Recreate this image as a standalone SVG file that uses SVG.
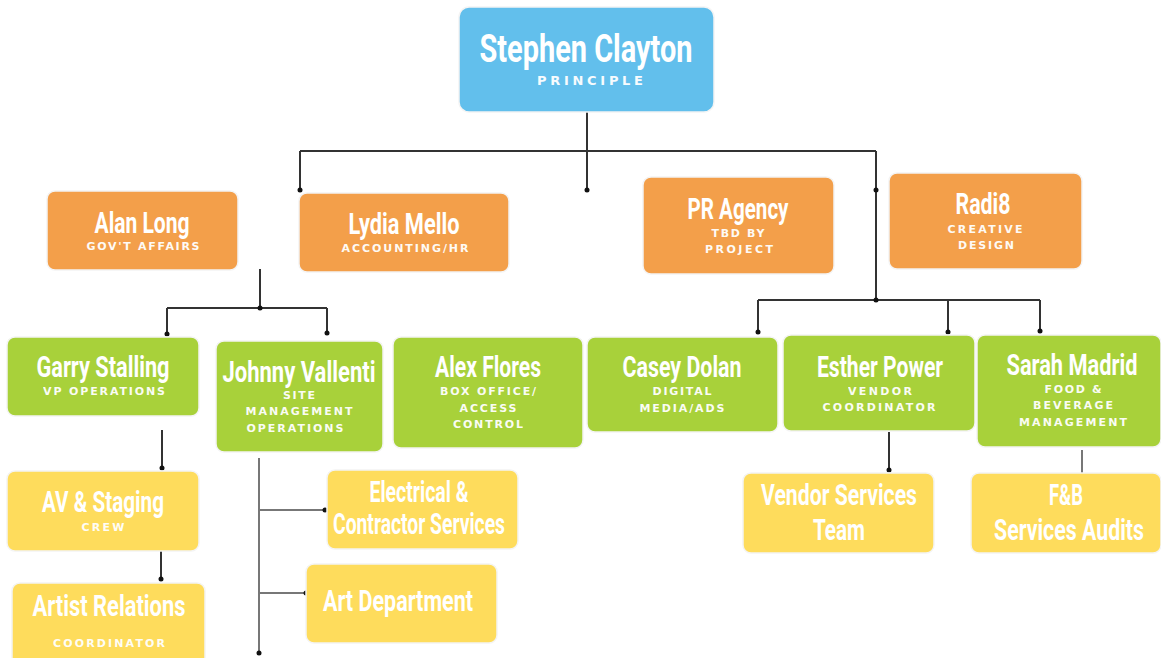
<svg xmlns="http://www.w3.org/2000/svg" width="1161" height="658" viewBox="0 0 1161 658">
<defs>
<style>
.box{stroke:#f4f4f4;stroke-width:1.5}
.blue{fill:#62BFEC}
.orange{fill:#F39F4A}
.green{fill:#A8D13A}
.yellow{fill:#FEDC5C}
.nm{font-family:"Liberation Sans Narrow","Roboto",sans-serif;font-weight:bold;fill:#fff;text-anchor:middle}
.sub{font-family:"DejaVu Sans","Open Sans",sans-serif;font-size:11px;font-weight:600;fill:#fff;text-anchor:middle;opacity:0.95}
.ln{stroke:#333;stroke-width:2;fill:none}
.ln2{stroke:#777;stroke-width:2;fill:none}
.dot{fill:#111}
</style>
</defs>
<rect width="1161" height="658" fill="#fff"/>
<g id="connectors">
<path class="ln" d="M587 112V190M300 151H876M300 151V190M876 151V300M758 300H1040M758 300V332M948 300V332M1040 300V331"/>
<path class="ln" d="M260 269V308M167 308H327M167 308V334M327 308V333"/>
<path class="ln" d="M162 430V468M161 541V579"/>
<path class="ln2" d="M259 458V653M259 510H325M259 593H306"/>
<path class="ln" d="M889 432V470"/>
<path class="ln2" d="M1082 450V473"/>
<circle class="dot" cx="587" cy="190" r="2.5"/>
<circle class="dot" cx="300" cy="190" r="2.5"/>
<circle class="dot" cx="876" cy="190" r="2.5"/>
<circle class="dot" cx="876" cy="300" r="2.5"/>
<circle class="dot" cx="758" cy="332" r="2.5"/>
<circle class="dot" cx="948" cy="332" r="2.5"/>
<circle class="dot" cx="1040" cy="331" r="2.5"/>
<circle class="dot" cx="260" cy="308" r="2.5"/>
<circle class="dot" cx="167" cy="334" r="2.5"/>
<circle class="dot" cx="327" cy="333" r="2.5"/>
<circle class="dot" cx="162" cy="468" r="2.5"/>
<circle class="dot" cx="161" cy="579" r="2.5"/>
<circle class="dot" cx="259" cy="653" r="2.5"/>
<circle class="dot" cx="325" cy="510" r="2.5"/>
<circle class="dot" cx="306" cy="593" r="2.5"/>
<circle class="dot" cx="889" cy="470" r="2.5"/>
</g>
<g id="stephen">
<rect class="box blue" x="459" y="7" width="255" height="105" rx="10"/>
<text class="nm" x="586" y="62" font-size="38" textLength="213" lengthAdjust="spacingAndGlyphs">Stephen Clayton</text>
<text class="sub" x="590" y="85" style="font-size:13px" textLength="106">PRINCIPLE</text>
</g>
<g id="alan">
<rect class="box orange" x="47" y="191" width="191" height="79" rx="8"/>
<text class="nm" x="142" y="233" font-size="30" textLength="95" lengthAdjust="spacingAndGlyphs">Alan Long</text>
<text class="sub" x="143" y="250" textLength="113">GOV'T AFFAIRS</text>
</g>
<g id="lydia">
<rect class="box orange" x="299" y="193" width="210" height="79" rx="8"/>
<text class="nm" x="404" y="234" font-size="30" textLength="111" lengthAdjust="spacingAndGlyphs">Lydia Mello</text>
<text class="sub" x="405" y="252" textLength="127">ACCOUNTING/HR</text>
</g>
<g id="pr">
<rect class="box orange" x="643" y="177" width="191" height="97" rx="8"/>
<text class="nm" x="738" y="219" font-size="30" textLength="101" lengthAdjust="spacingAndGlyphs">PR Agency</text>
<text class="sub" x="738" y="237" textLength="53">TBD BY</text>
<text class="sub" x="739" y="253" textLength="68">PROJECT</text>
</g>
<g id="radi8">
<rect class="box orange" x="889" y="173" width="193" height="96" rx="8"/>
<text class="nm" x="983" y="214" font-size="30" textLength="55" lengthAdjust="spacingAndGlyphs">Radi8</text>
<text class="sub" x="985" y="233" textLength="75">CREATIVE</text>
<text class="sub" x="986" y="249" textLength="56">DESIGN</text>
</g>
<g id="garry">
<rect class="box green" x="7" y="337" width="192" height="79" rx="8"/>
<text class="nm" x="103" y="377" font-size="30" textLength="133" lengthAdjust="spacingAndGlyphs">Garry Stalling</text>
<text class="sub" x="104" y="395" textLength="122">VP OPERATIONS</text>
</g>
<g id="johnny">
<rect class="box green" x="216" y="341" width="167" height="111" rx="8"/>
<text class="nm" x="299" y="382" font-size="30" textLength="153" lengthAdjust="spacingAndGlyphs">Johnny Vallenti</text>
<text class="sub" x="299" y="399" textLength="32">SITE</text>
<text class="sub" x="299" y="415" textLength="107">MANAGEMENT</text>
<text class="sub" x="295" y="432" textLength="97">OPERATIONS</text>
</g>
<g id="alex">
<rect class="box green" x="393" y="337" width="190" height="111" rx="8"/>
<text class="nm" x="488" y="377" font-size="30" textLength="106" lengthAdjust="spacingAndGlyphs">Alex Flores</text>
<text class="sub" x="488" y="395" textLength="96">BOX OFFICE/</text>
<text class="sub" x="488" y="412" textLength="57">ACCESS</text>
<text class="sub" x="488" y="428" textLength="70">CONTROL</text>
</g>
<g id="casey">
<rect class="box green" x="587" y="337" width="191" height="95" rx="8"/>
<text class="nm" x="682" y="377" font-size="30" textLength="119" lengthAdjust="spacingAndGlyphs">Casey Dolan</text>
<text class="sub" x="682" y="395" textLength="59">DIGITAL</text>
<text class="sub" x="682" y="412" textLength="85">MEDIA/ADS</text>
</g>
<g id="esther">
<rect class="box green" x="783" y="335" width="192" height="96" rx="8"/>
<text class="nm" x="880" y="377" font-size="30" textLength="126" lengthAdjust="spacingAndGlyphs">Esther Power</text>
<text class="sub" x="880" y="395" textLength="64">VENDOR</text>
<text class="sub" x="879" y="411" textLength="113">COORDINATOR</text>
</g>
<g id="sarah">
<rect class="box green" x="977" y="335" width="184" height="112" rx="8"/>
<text class="nm" x="1072" y="375" font-size="30" textLength="131" lengthAdjust="spacingAndGlyphs">Sarah Madrid</text>
<text class="sub" x="1073" y="393" textLength="57">FOOD &amp;</text>
<text class="sub" x="1073" y="409" textLength="80">BEVERAGE</text>
<text class="sub" x="1073" y="426" textLength="108">MANAGEMENT</text>
</g>
<g id="av">
<rect class="box yellow" x="7" y="471" width="192" height="80" rx="8"/>
<text class="nm" x="103" y="512" font-size="30" textLength="122" lengthAdjust="spacingAndGlyphs">AV &amp; Staging</text>
<text class="sub" x="103" y="531" textLength="43">CREW</text>
</g>
<g id="artist">
<rect class="box yellow" x="12" y="583" width="193" height="85" rx="8"/>
<text class="nm" x="109" y="616" font-size="30" textLength="153" lengthAdjust="spacingAndGlyphs">Artist Relations</text>
<text class="sub" x="109" y="647" textLength="112">COORDINATOR</text>
</g>
<g id="electrical">
<rect class="box yellow" x="327" y="470" width="191" height="79" rx="8"/>
<text class="nm" x="419" y="502" font-size="29" textLength="99" lengthAdjust="spacingAndGlyphs">Electrical &amp;</text>
<text class="nm" x="419" y="534" font-size="29" textLength="172" lengthAdjust="spacingAndGlyphs">Contractor Services</text>
</g>
<g id="art">
<rect class="box yellow" x="306" y="564" width="191" height="79" rx="8"/>
<text class="nm" x="398" y="611" font-size="30" textLength="150" lengthAdjust="spacingAndGlyphs">Art Department</text>
</g>
<g id="vendor">
<rect class="box yellow" x="743" y="473" width="191" height="80" rx="8"/>
<text class="nm" x="839" y="505" font-size="29" textLength="156" lengthAdjust="spacingAndGlyphs">Vendor Services</text>
<text class="nm" x="839" y="540" font-size="29" textLength="52" lengthAdjust="spacingAndGlyphs">Team</text>
</g>
<g id="fb">
<rect class="box yellow" x="971" y="473" width="190" height="80" rx="8"/>
<text class="nm" x="1066" y="505" font-size="29" textLength="34" lengthAdjust="spacingAndGlyphs">F&amp;B</text>
<text class="nm" x="1069" y="540" font-size="29" textLength="150" lengthAdjust="spacingAndGlyphs">Services Audits</text>
</g>
</svg>
